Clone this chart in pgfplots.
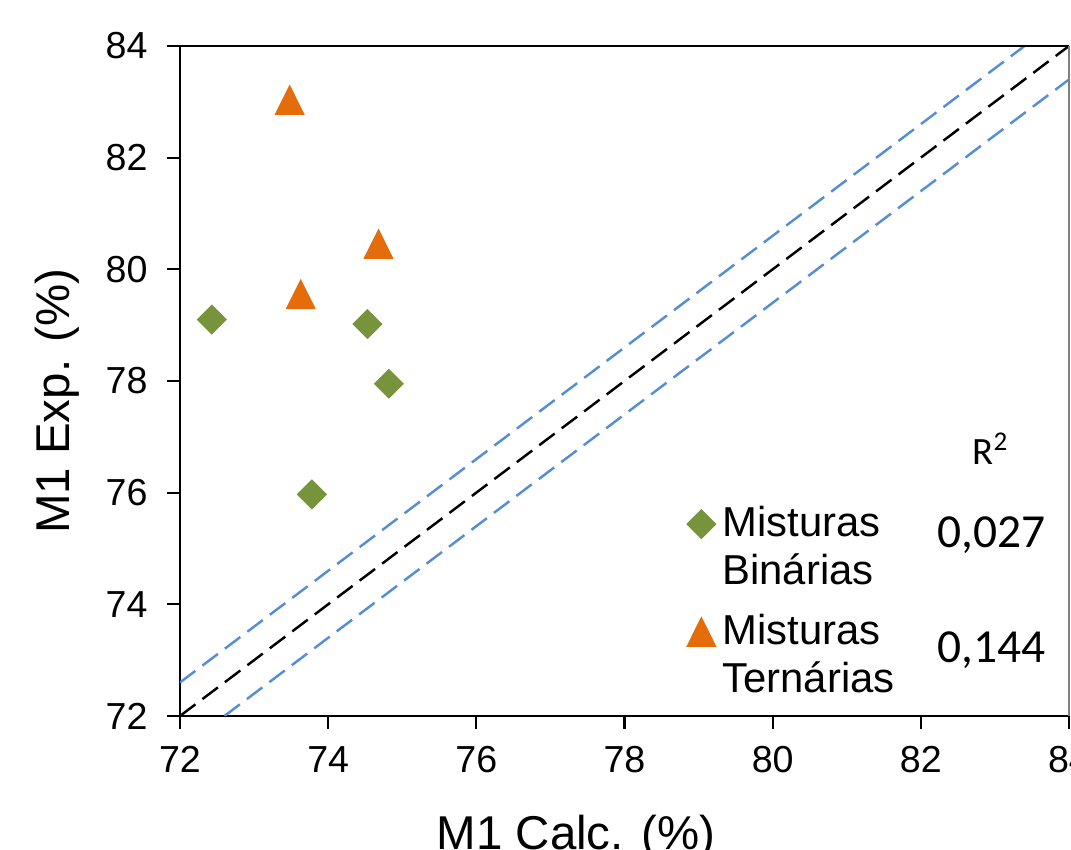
\documentclass[border=0pt]{standalone}
\usepackage{fontspec}
\setmainfont{Liberation Sans}
\newfontfamily\calfont{Carlito}
\usepackage{pgfplots}
\pgfplotsset{compat=1.18}
\definecolor{mgreen}{HTML}{77933C}
\definecolor{morange}{HTML}{E46C0A}
\definecolor{mblue}{HTML}{558ED5}

\begin{document}
\begin{tikzpicture}
\begin{axis}[
    name=ax, at={(0,0)}, anchor=south west,
    width=8.89cm, height=6.70cm, scale only axis,
    xmin=72, xmax=84, ymin=72, ymax=84,
    xtick={72,74,...,84}, ytick={72,74,...,84},
    axis x line*=bottom, axis y line*=left,
    axis line style={line width=0.6pt, black},
    tick align=outside, major tick length=3.7pt,
    tick style={line width=0.6pt, black},
    /pgf/number format/assume math mode=true,
    ticklabel style={font=\fontsize{10.7}{12}\selectfont},
    xticklabel style={yshift=-1.4pt},
    yticklabel style={xshift=-2pt},
    xlabel={M1 Calc. (\%)}, ylabel={M1 Exp. (\%)},
    label style={font=\fontsize{13.5}{15}\selectfont},
    xlabel style={at={(axis description cs:0.4455,-0.2)}, anchor=base},
    ylabel style={at={(axis description cs:-0.1384,0.47)}, anchor=center},
    clip=true,
    legend style={draw=none, fill=none, at={(axis description cs:0.558,0.335)},
        anchor=north west, font=\fontsize{11.9}{13.6}\selectfont,
        cells={align=left}, row sep=3pt},
    legend cell align=left,
    legend image code/.code={\draw[mark repeat=2,mark phase=2,#1,yshift=6.8pt]
        plot coordinates {(0cm,0cm) (0.15cm,0cm) (0.3cm,0cm)};},
]
% 1:1 line and +/- 0.6 band
\addplot[black, line width=0.7pt, dash pattern=on 5.5pt off 2.5pt, forget plot]
    coordinates {(72,72) (84,84)};
\addplot[mblue, line width=0.7pt, dash pattern=on 5.5pt off 2.5pt, forget plot]
    coordinates {(72,72.6) (83.4,84)};
\addplot[mblue, line width=0.7pt, dash pattern=on 5.5pt off 2.5pt, forget plot]
    coordinates {(72.6,72) (84,83.4)};

% binary mixtures
\addplot[only marks, mark=square*, mark size=2.83pt,
    mark options={rotate=45, draw=mgreen, fill=mgreen}]
    coordinates {(72.43,79.10) (74.53,79.02) (74.82,77.95) (73.78,75.97)};
\addlegendentry{Misturas\\Binárias}

% ternary mixtures
\addplot[only marks, mark=triangle*, mark size=4.6pt,
    mark options={yshift=-1.33pt, yscale=1.16, draw=morange, fill=morange}]
    coordinates {(73.48,83.03) (74.68,80.45) (73.63,79.55)};
\addlegendentry{Misturas\\Ternárias}

\node[anchor=base west, inner sep=0pt, font=\calfont\fontsize{11}{12}\selectfont]
    at (axis cs:82.69,76.50) {R\textsuperscript{2}};
\node[anchor=base west, inner sep=0pt, font=\calfont\fontsize{13.5}{15}\selectfont]
    at (axis cs:82.22,75.01) {0,027};
\node[anchor=base west, inner sep=0pt, font=\calfont\fontsize{13.5}{15}\selectfont]
    at (axis cs:82.22,72.95) {0,144};
\end{axis}
\draw[black, line width=0.6pt] (ax.north west) -- (ax.north east);
\draw[gray, line width=0.5pt] (ax.south east) -- (ax.north east);
\pgfresetboundingbox
\path (-1.80cm,-1.34cm) rectangle (8.91cm,7.16cm);
\end{tikzpicture}
\end{document}
